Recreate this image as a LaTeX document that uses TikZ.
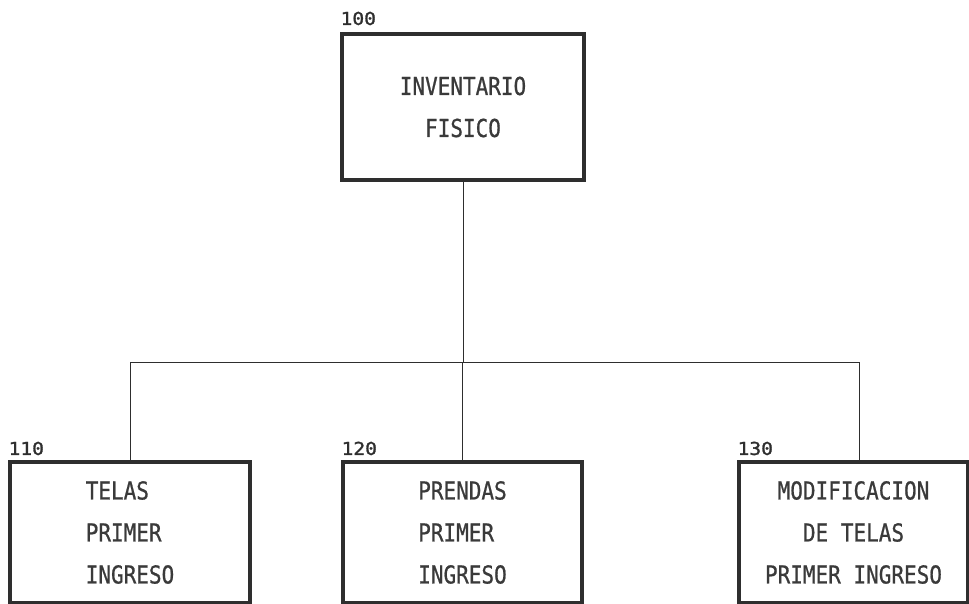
\documentclass[tikz,border=0pt]{standalone}
\usepackage{fontspec}
\newfontfamily\boxfont[FakeStretch=0.85,FakeBold=0.8]{DejaVu Sans Mono}
\newfontfamily\numfont[FakeStretch=1.1,FakeBold=1.5]{DejaVu Sans Mono}
\definecolor{ink}{HTML}{2E2E2E}
\definecolor{txt}{HTML}{3A3A3A}
\begin{document}
\begin{tikzpicture}[x=1pt,y=-1pt,
  box/.style={draw=ink, line width=3.2pt, inner sep=0pt, text=txt,
    font=\boxfont\fontsize{24.7}{42}\selectfont},
  num/.style={anchor=south west, inner sep=0pt, text=ink,
    font=\numfont\fontsize{17.8}{20}\selectfont},
  link/.style={draw=ink, line width=0.9pt}]
\useasboundingbox (0,0) rectangle (969,604);
\node[box, minimum width=242pt, minimum height=146pt, align=center] (top) at (463,107) {INVENTARIO\\FISICO};
\node[box, minimum width=240pt, minimum height=141pt, align=left] (b1) at (130,532.5) {TELAS\\PRIMER\\INGRESO};
\node[box, minimum width=239pt, minimum height=141pt, align=left] (b2) at (462.5,532.5) {PRENDAS\\PRIMER\\INGRESO};
\node[box, minimum width=229pt, minimum height=141pt, align=center] (b3) at (853.5,532.5) {MODIFICACION\\DE TELAS\\PRIMER INGRESO};
\node[num] (n100) at ([yshift=7pt]top.north west) {100};
\node[num] (n110) at ([yshift=5pt]b1.north west) {110};
\node[num] (n120) at ([yshift=5pt]b2.north west) {120};
\node[num] (n130) at ([yshift=5pt]b3.north west) {130};
\coordinate (bus) at (462,362);
\coordinate (d3) at ([xshift=5.5pt]b3.north);
\draw[link] (top.south) -- (top.south |- bus);
\draw[link] (b1.north) -- (b1.north |- bus) -- (d3 |- bus) -- (d3);
\draw[link] (b2.north) -- (b2.north |- bus);
\end{tikzpicture}
\end{document}
